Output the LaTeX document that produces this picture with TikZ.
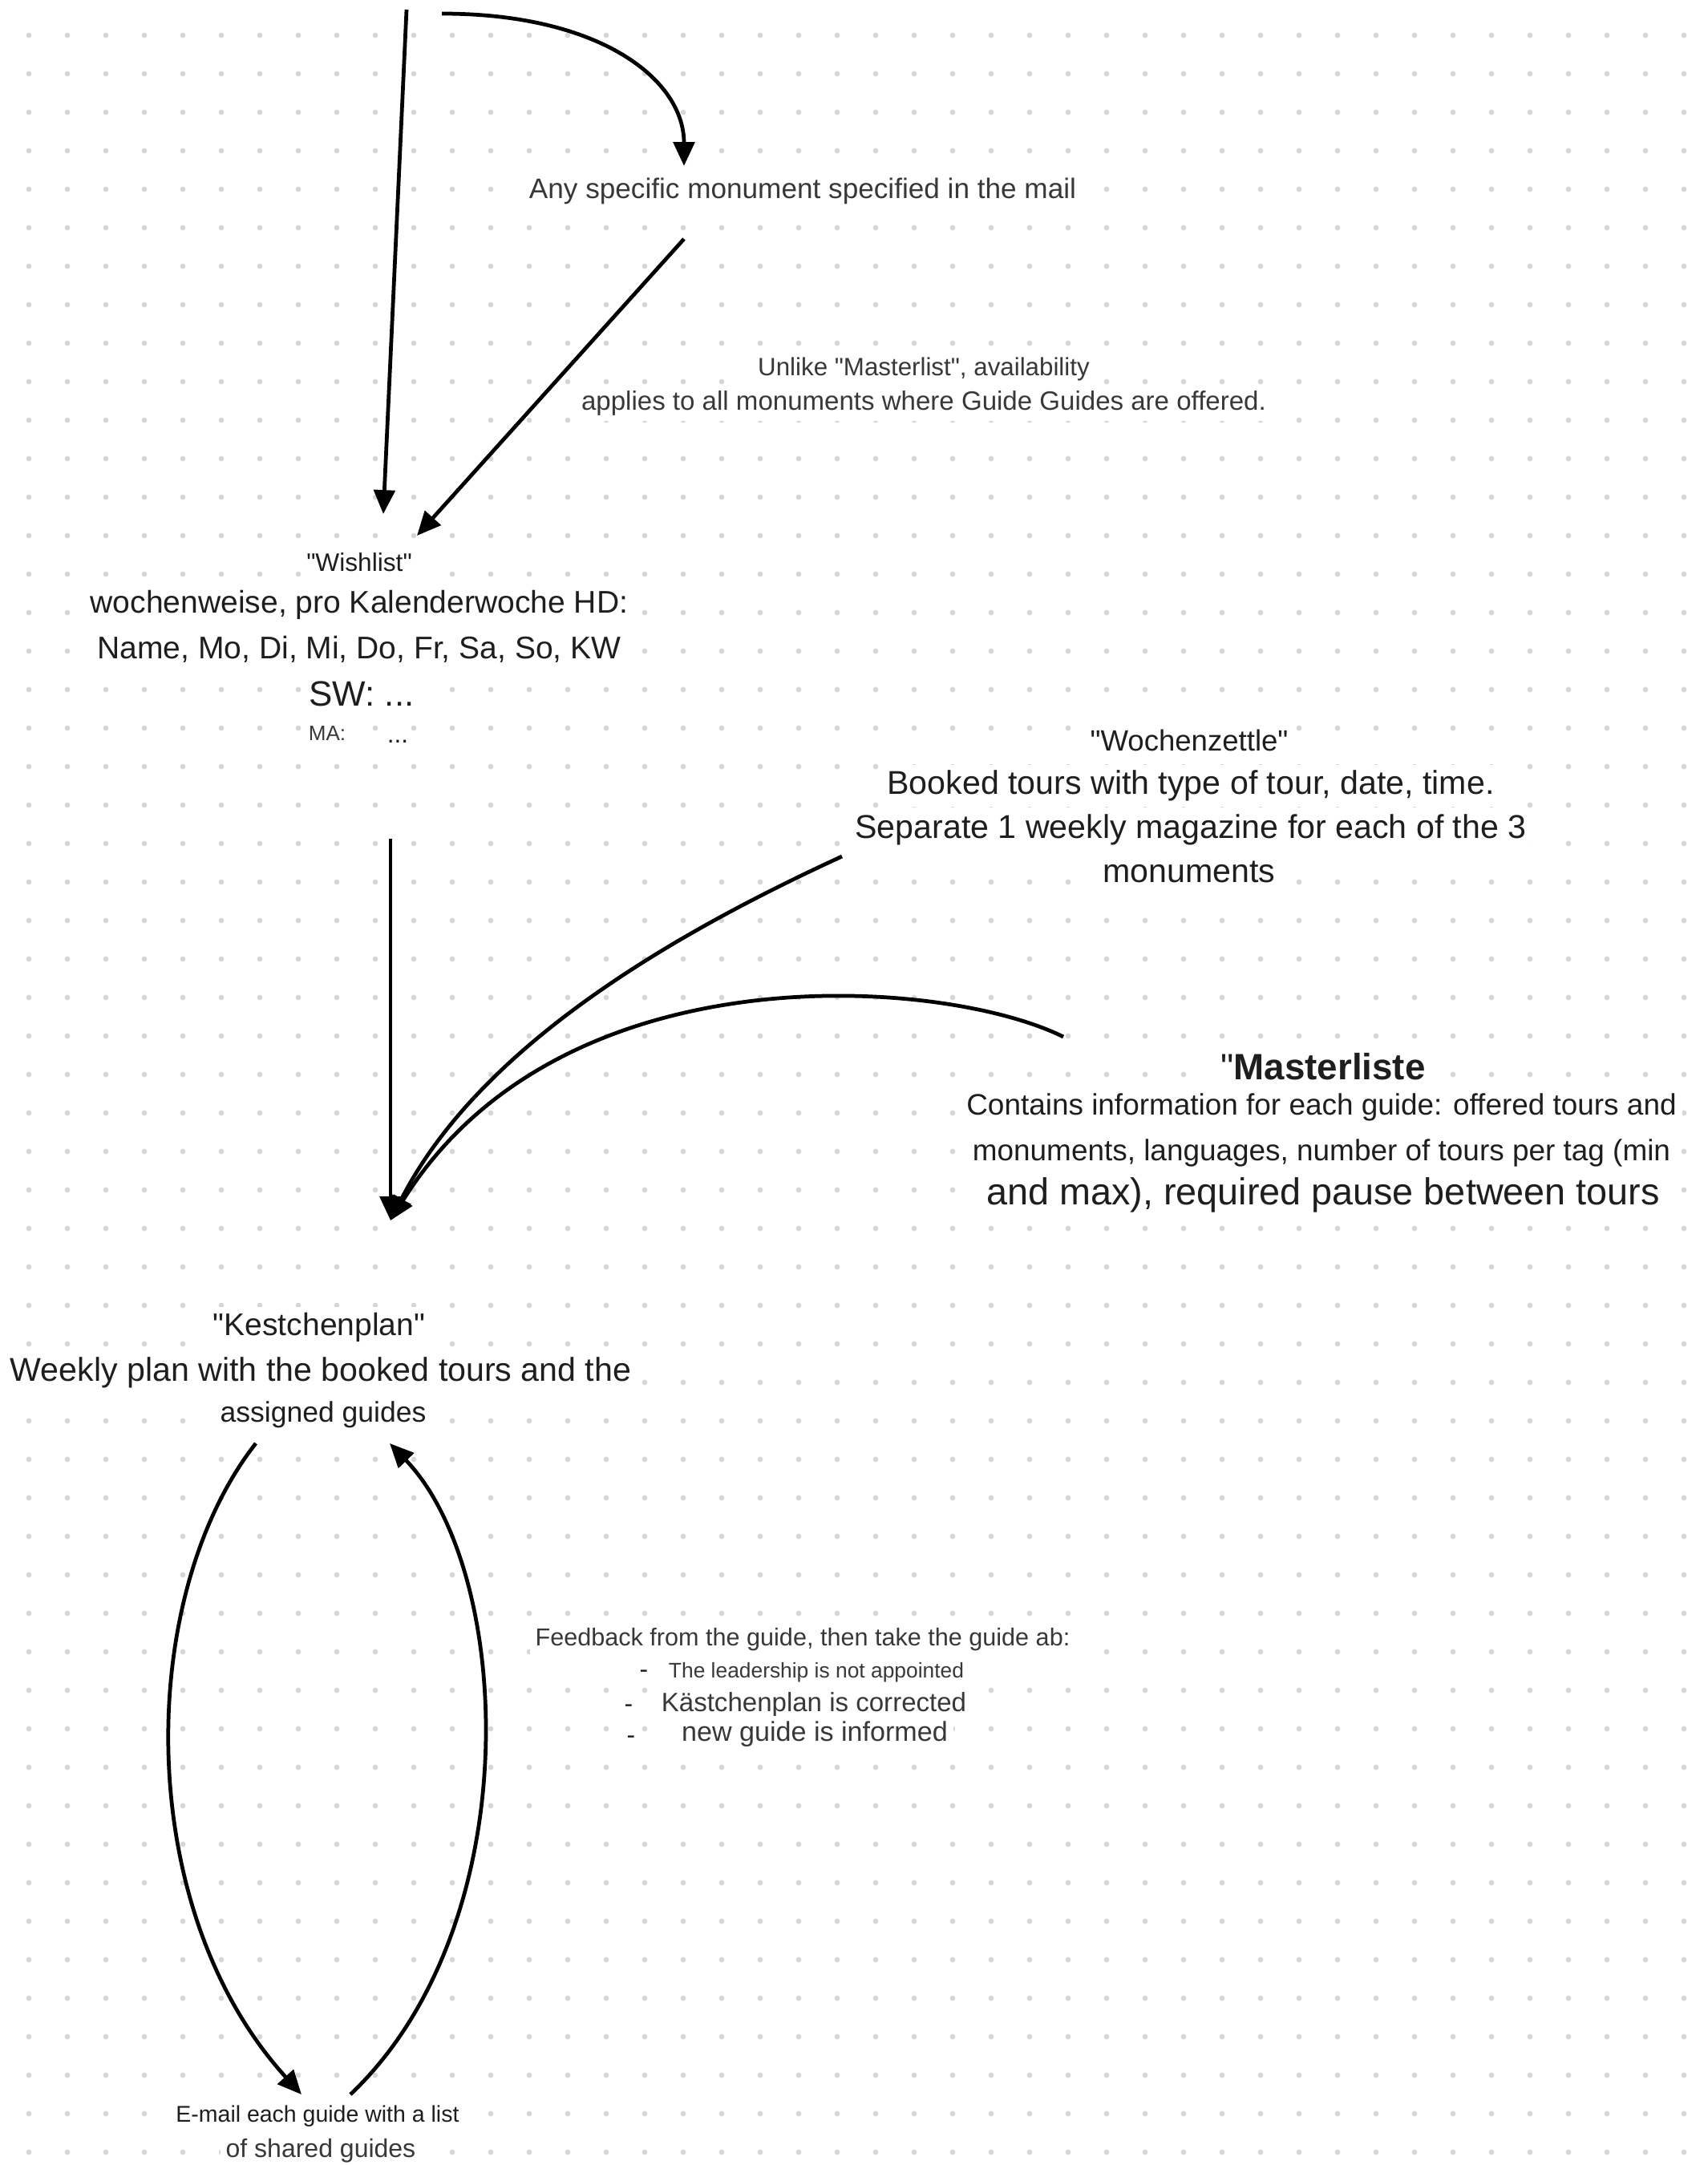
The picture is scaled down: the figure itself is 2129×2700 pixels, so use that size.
\documentclass[tikz,border=0pt]{standalone}
\usepackage{fontspec}
\setmainfont{Liberation Sans}[Ligatures=TeXOff]
\usetikzlibrary{arrows.meta}
\newcommand\setfs[1]{\fontsize{#1}{#1}\selectfont}
\newcommand\dq{\symbol{"22}}
\definecolor{dotc}{HTML}{D6D6D6}
\definecolor{txtc}{HTML}{383838}
\definecolor{txtd}{HTML}{1E1E1E}
\tikzset{
  txt/.style={fill=white, inner sep=2pt, text=txtc, anchor=center},
  txtdark/.style={txt, text=txtd},
  flow/.style={line width=1.35pt, -{Triangle[length=8.5pt,width=7.5pt]}},
}
\begin{document}
\begin{tikzpicture}[x=0.01cm,y=-0.01cm]
\useasboundingbox (0,0) rectangle (2129,2700);
\fill[white] (0,0) rectangle (2129,2700);
% dot grid
\foreach \i in {0,...,43} {
  \foreach \j in {0,...,55} {
    \fill[dotc] (36+48*\i,44+48*\j) circle[radius=0.95pt];
  }
}
% texts
\node[txt, font=\setfs{10}] (anymon) at (1001,238) {Any specific monument specified in the mail};
\node[txt, font=\setfs{8.9}] (unlike1) at (1152,460) {Unlike \dq Masterlist\dq, availability};
\node[txt, font=\setfs{9.4}] (unlike2) at (1152,503) {applies to all monuments where Guide Guides are offered.};

\node[txtdark, font=\setfs{9}] (wl0) at (448,701) {\dq Wishlist\dq};
\node[txtdark, font=\setfs{11.1}] (wl1) at (448,754) {wochenweise, pro Kalenderwoche HD:};
\node[txtdark, font=\setfs{11.1}] (wl2) at (448,810) {Name, Mo, Di, Mi, Do, Fr, Sa, So, KW};
\node[txtdark, font=\setfs{12.5}] (wl3) at (451,865) {SW: ...};
\node[txt, font=\setfs{7.4}] (wl4) at (408,915) {MA:};
\node[txtdark, font=\setfs{9}] (wl5) at (496,925) {...};

\node[txtdark, font=\setfs{10.4}] (wz0) at (1483,923) {\dq Wochenzettle\dq};
\node[txtdark, font=\setfs{11.7}] (wz1) at (1485,980) {Booked tours with type of tour, date, time.};
\node[txtdark, font=\setfs{11.7}] (wz2) at (1485,1035) {Separate 1 weekly magazine for each of the 3};
\node[txtdark, font=\setfs{11.7}] (wz3) at (1483,1087) {monuments};

\node[txtdark, font=\setfs{13}] (ml0) at (1650,1330) {\dq\textbf{Masterliste}};
\node[txtdark, font=\setfs{10.5}] (ml1) at (1648,1381) {Contains information for each guide: offered tours and};
\node[txtdark, font=\setfs{10.5}] (ml2) at (1648,1438) {monuments, languages, number of tours per tag (min};
\node[txtdark, font=\setfs{13.3}] (ml3) at (1650,1490) {and max), required pause between tours};

\node[txtdark, font=\setfs{11.1}] (kp0) at (398,1655) {\dq Kestchenplan\dq};
\node[txtdark, font=\setfs{11.7}] (kp1) at (400,1712) {Weekly plan with the booked tours and the};
\node[txtdark, font=\setfs{10.1}] (kp2) at (403,1764) {assigned guides};

\node[txt, font=\setfs{8.7}] (fb0) at (1001,2045) {Feedback from the guide, then take the guide ab:};
\node[txt, font=\setfs{7.5}] (fb1) at (1018,2086) {The leadership is not appointed};
\node[txt, font=\setfs{9.4}] (fb2) at (1015,2126) {Kästchenplan is corrected};
\node[txt, font=\setfs{9.7}] (fb3) at (1016,2163) {new guide is informed};
\node[txtdark, font=\setfs{9}] (fd1) at (803,2088) {-};
\node[txtdark, font=\setfs{9}] (fd2) at (784,2131) {-};
\node[txtdark, font=\setfs{9}] (fd3) at (787,2170) {-};

\node[txtdark, font=\setfs{8.1}] (em0) at (396,2639) {E-mail each guide with a list};
\node[txt, font=\setfs{9.1}] (em1) at (400,2682) {of shared guides};

% connector end points
\coordinate (a1s) at (507,12);
\coordinate (a1e) at (478,641);
\coordinate (a2s) at (551,17);
\coordinate (a2e) at (853,207);
\coordinate (a3s) at (853,298);
\coordinate (a3e) at (520,668);
\coordinate (a4s) at (487,1046);
\coordinate (hub) at (487,1522);
\coordinate (a5s) at (1050,1068);
\coordinate (a6s) at (1326,1293);
\coordinate (l1s) at (319,1800);
\coordinate (l1e) at (376,2612);
\coordinate (r1s) at (437,2612);
\coordinate (r1e) at (486,1800);

% connectors
\draw[flow] (a1s) -- (a1e);
\draw[flow] (a2s) .. controls (750,17) and (853,100) .. (a2e);
\draw[flow] (a3s) -- (a3e);
\draw[flow] (a4s) -- (hub);
\draw[flow] (a5s) .. controls (850,1160) and (600,1300) .. (hub);
\draw[flow] (a6s) .. controls (1180,1220) and (700,1180) .. (hub);
\draw[flow] (l1s) .. controls (170,1990) and (165,2380) .. (l1e);
\draw[flow] (r1s) .. controls (660,2400) and (640,1960) .. (r1e);
\end{tikzpicture}
\end{document}
